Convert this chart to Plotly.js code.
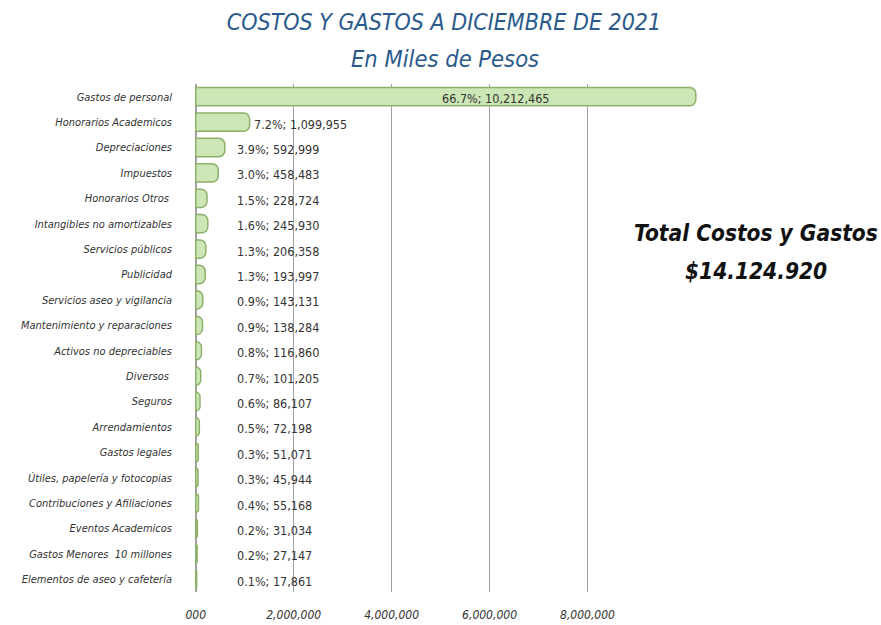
<!DOCTYPE html>
<html>
<head>
<meta charset="utf-8">
<script src="https://cdn.plot.ly/plotly-3.0.1.min.js"></script>
<style>html,body{margin:0;padding:0;background:#fff;}#chart{width:881px;height:625px;}</style>
</head>
<body>
<div id="chart"></div>
<script>
const categories = [
  "Gastos de personal",
  "Honorarios Academicos",
  "Depreciaciones",
  "Impuestos",
  "Honorarios Otros ",
  "Intangibles no amortizables",
  "Servicios públicos",
  "Publicidad",
  "Servicios aseo y vigilancia",
  "Mantenimiento y reparaciones",
  "Activos no depreciables",
  "Diversos ",
  "Seguros",
  "Arrendamientos",
  "Gastos legales",
  "Útiles, papelería y fotocopias",
  "Contribuciones y Afiliaciones",
  "Eventos Academicos",
  "Gastos Menores  10 millones",
  "Elementos de aseo y cafetería"
];
const values = [10212465, 1099955, 592999, 458483, 228724, 245930, 206358, 193997, 143131, 138284, 116860, 101205, 86107, 72198, 51071, 45944, 55168, 31034, 27147, 17861];
const percents = ["66.7%", "7.2%", "3.9%", "3.0%", "1.5%", "1.6%", "1.3%", "1.3%", "0.9%", "0.9%", "0.8%", "0.7%", "0.6%", "0.5%", "0.3%", "0.3%", "0.4%", "0.2%", "0.2%", "0.1%"];
const tickVals = [0, 2000000, 4000000, 6000000, 8000000];
const tickText = ["000", "2,000,000", "4,000,000", "6,000,000", "8,000,000"];
const titleLines = ["COSTOS Y GASTOS A DICIEMBRE DE 2021", "En Miles de Pesos"];
const totalLabel = ["Total Costos y Gastos", "$14.124.920"];

const fmt = v => v.toLocaleString('en-US');
const FONT = "'DejaVu Sans Condensed', 'DejaVu Sans', sans-serif";

const trace = {
  type: 'bar',
  orientation: 'h',
  y: categories,
  x: values,
  width: 0.72,
  marker: {color: '#cde6b6', line: {color: '#8db06a', width: 1.5}, cornerradius: 6},
  hoverinfo: 'x+y'
};

const annotations = categories.map((c, i) => {
  const label = percents[i] + '; ' + fmt(values[i]);
  if (i === 0) {
    return {x: values[i] * 0.6, y: c, xref: 'x', yref: 'y', text: label, showarrow: false,
            xanchor: 'center', yshift: -2, font: {family: FONT, size: 12.5, color: '#333'}};
  }
  return {x: Math.max(values[i], 760000), y: c, xref: 'x', yref: 'y', text: label, showarrow: false,
          xanchor: 'left', xshift: 2, yshift: -2, font: {family: FONT, size: 12.5, color: '#333'}};
});

annotations.push({
  x: (445 - 185) / 520, y: (592 - 59) / 508, xref: 'paper', yref: 'paper', xanchor: 'center', yanchor: 'middle',
  text: '<i>' + titleLines[1] + '</i>', showarrow: false,
  font: {family: FONT, size: 23.5, color: '#2a5a8c'}
});
annotations.push({
  x: 1.098, y: 0.707, xref: 'paper', yref: 'paper', xanchor: 'center', yanchor: 'middle',
  text: '<b><i>' + totalLabel[0] + '</i></b>', showarrow: false,
  font: {family: FONT, size: 22.5, color: '#111'}
});
annotations.push({
  x: 1.098, y: 0.632, xref: 'paper', yref: 'paper', xanchor: 'center', yanchor: 'middle',
  text: '<b><i>' + totalLabel[1] + '</i></b>', showarrow: false,
  font: {family: FONT, size: 22.5, color: '#111'}
});

const layout = {
  width: 881, height: 625,
  paper_bgcolor: '#fff', plot_bgcolor: '#fff',
  margin: {l: 185, r: 176, t: 84, b: 33},
  title: {
    text: '<i>' + titleLines[0] + '</i>',
    font: {family: FONT, size: 23, color: '#2a5a8c'},
    x: 444 / 881, xref: 'container', xanchor: 'center',
    y: 1 - 22 / 625, yref: 'container', yanchor: 'middle'
  },
  showlegend: false,
  xaxis: {
    range: [-220000, 10400000],
    tickvals: tickVals, ticktext: tickText,
    showgrid: true, gridcolor: '#a0a0a0', gridwidth: 1.5,
    zeroline: true, zerolinecolor: '#a0a0a0', zerolinewidth: 1.5,
    showline: false, ticks: '',
    ticklabelstandoff: 14,
    tickfont: {family: FONT, size: 12, color: '#333', style: 'italic'},
    fixedrange: true
  },
  yaxis: {
    type: 'category',
    autorange: 'reversed',
    showgrid: false, zeroline: false, showline: false, ticks: '',
    ticklabelstandoff: 12,
    tickfont: {family: FONT, size: 11, color: '#333', style: 'italic'},
    fixedrange: true
  },
  annotations: annotations
};

Plotly.newPlot('chart', [trace], layout, {displayModeBar: false, staticPlot: true});
</script>
</body>
</html>
